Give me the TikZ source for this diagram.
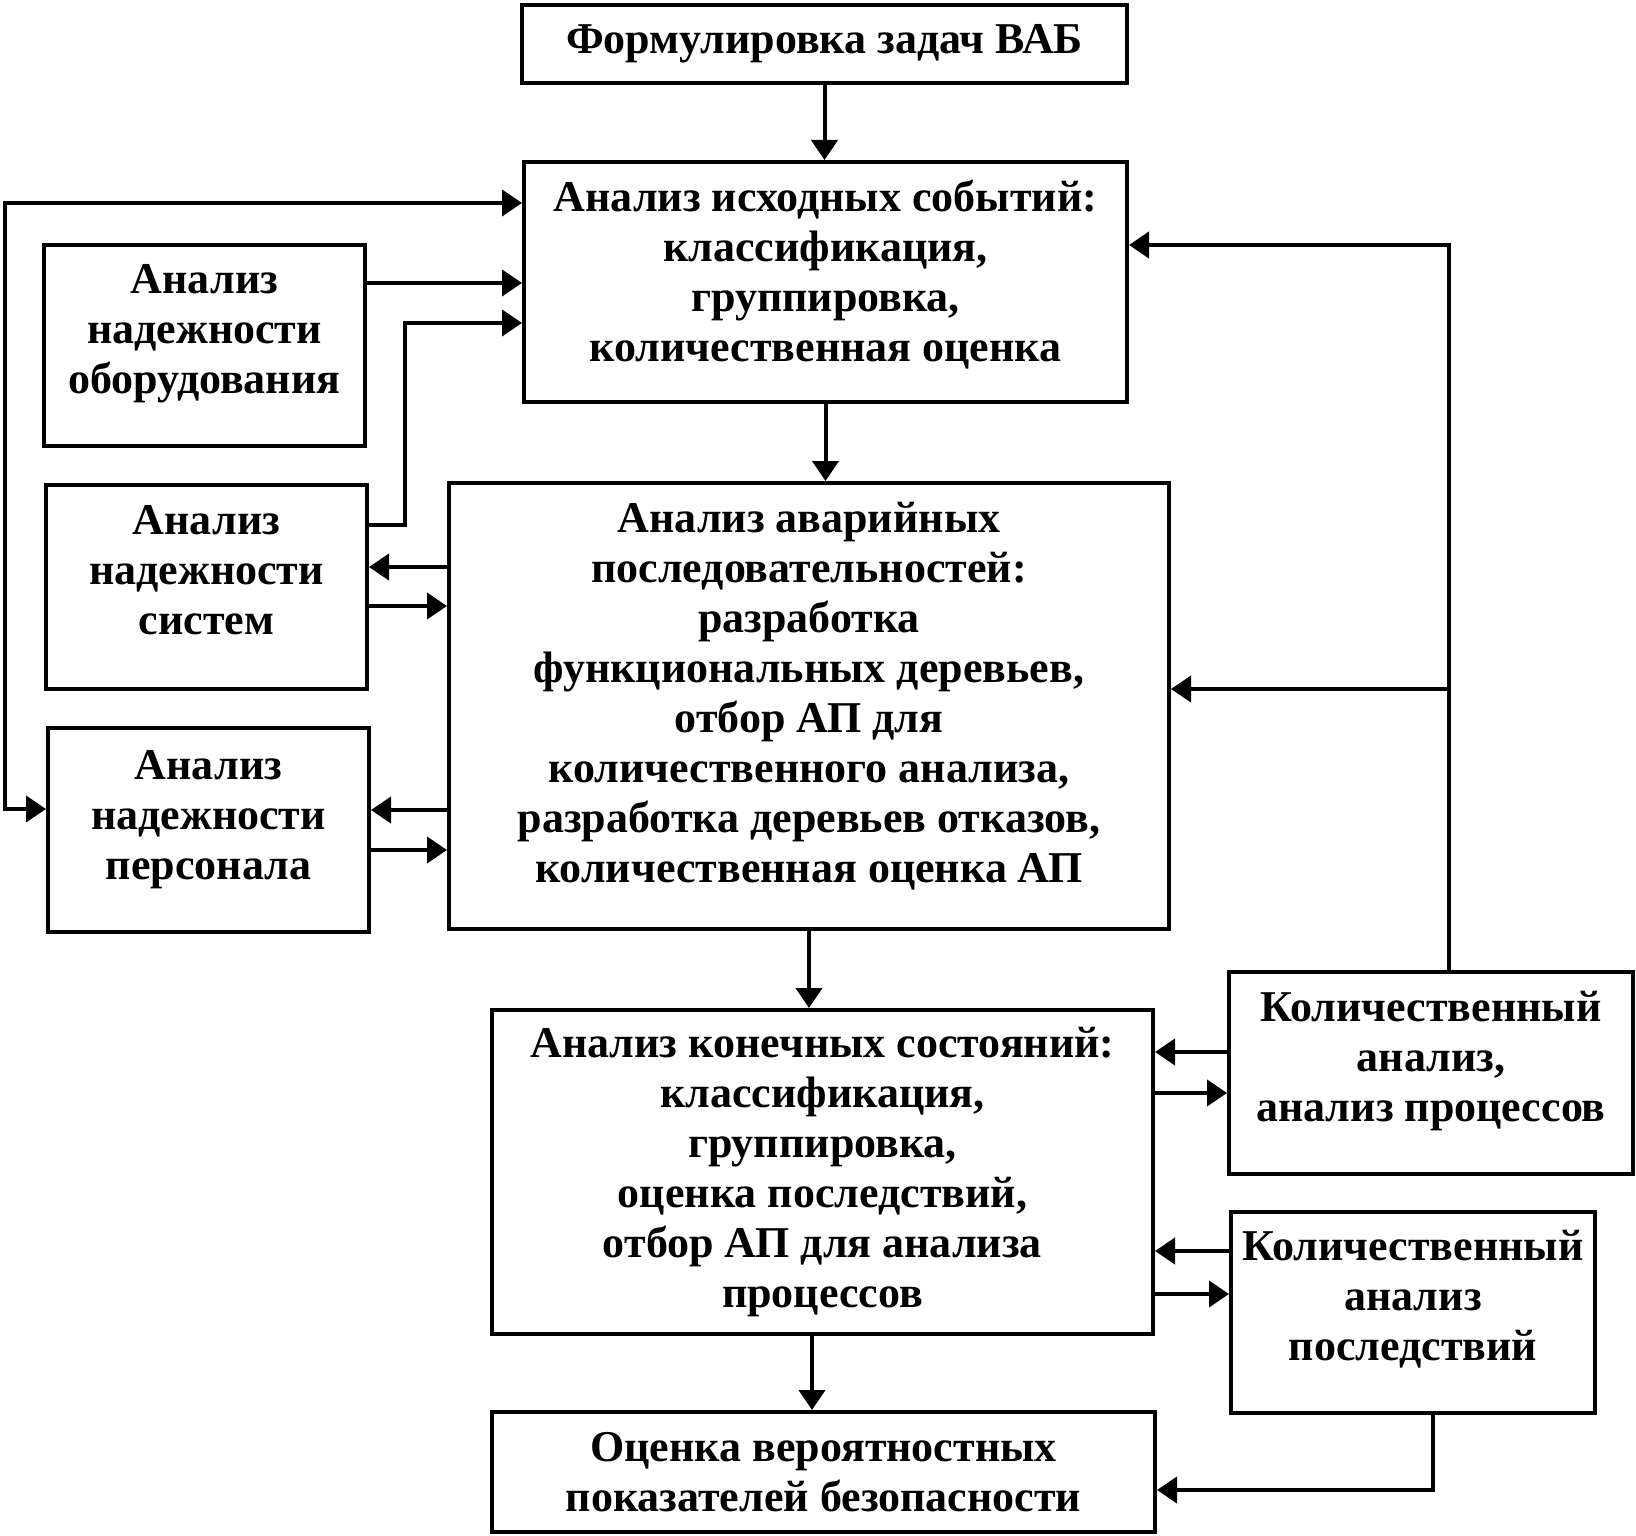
\documentclass[tikz,border=0pt]{standalone}
\usepackage{fontspec}
\setmainfont{Liberation Serif}
\usetikzlibrary{arrows.meta,positioning}
\tikzset{>={Triangle[length=20pt,width=26pt]},
	blok/.style={draw, line width=4pt, align=center, inner sep=0pt,
		font=\fontsize{44}{50}\selectfont\bfseries},
	podnyat/.style={text depth=#1},
	svyaz/.style={line width=4pt, ->}}

\begin{document}
\begin{tikzpicture}[x=1pt,y=-1pt]
	\useasboundingbox (0,0) rectangle (1636,1536);
	% blocks
	\node[blok, minimum width=605pt, minimum height=78pt] (form) at (824.5,44)
		{Формулировка задач ВАБ};
	\node[blok, podnyat=23pt, minimum width=603pt, minimum height=240pt] (iskh) at (825.5,282)
		{Анализ исходных событий:\\классификация,\\группировка,\\количественная оценка};
	\node[blok, podnyat=34pt, minimum width=321pt, minimum height=201pt] (obor) at (204.5,345.5)
		{Анализ\\надежности\\оборудования};
	\node[blok, podnyat=34pt, minimum width=321pt, minimum height=204pt] (sist) at (206.5,587)
		{Анализ\\надежности\\систем};
	\node[blok, podnyat=30pt, minimum width=321pt, minimum height=204pt] (pers) at (208.5,830)
		{Анализ\\надежности\\персонала};
	\node[blok, podnyat=27pt, minimum width=720pt, minimum height=446pt] (avar) at (809,706)
		{Анализ аварийных\\последовательностей:\\разработка\\функциональных деревьев,\\отбор АП для\\количественного анализа,\\разработка деревьев отказов,\\количественная оценка АП};
	\node[blok, podnyat=34pt, minimum width=404pt, minimum height=202pt] (kolpr) at (1431,1073)
		{Количественный\\анализ,\\анализ процессов};
	\node[blok, minimum width=661pt, minimum height=324pt] (konech) at (822.5,1172)
		{Анализ конечных состояний:\\классификация,\\группировка,\\оценка последствий,\\отбор АП для анализа\\процессов};
	\node[blok, podnyat=34pt, minimum width=364pt, minimum height=201pt] (kolsl) at (1413,1312.5)
		{Количественный\\анализ\\последствий};
	\node[blok, minimum width=663pt, minimum height=120pt] (otsen) at (823.5,1472)
		{Оценка вероятностных\\показателей безопасности};

	% main column
	\draw[svyaz] (form) -- (form |- iskh.north);
	\draw[svyaz] (iskh.south) -- (iskh.south |- avar.north);
	\draw[svyaz] (avar.south) -- (avar.south |- konech.north);
	\draw[svyaz] (konech.south -| 812,0) -- (otsen.north -| 812,0);

	% left side
	\coordinate (petlya) at (5,203);
	\draw[svyaz,<->] (iskh.west |- petlya) -- (petlya) -- (petlya |- 0,809) -- (pers.west |- 0,809);
	\draw[svyaz] (obor.east |- 0,283) -- (iskh.west |- 0,283);
	\draw[svyaz] (sist.east |- 0,525) -- (405,525) -- (405,323) -- (iskh.west |- 0,323);
	\draw[svyaz] (avar.west |- 0,567) -- (sist.east |- 0,567);
	\draw[svyaz] (sist.east |- 0,606) -- (avar.west |- 0,606);
	\draw[svyaz] (avar.west |- 0,810) -- (pers.east |- 0,810);
	\draw[svyaz] (pers.east |- 0,850) -- (avar.west |- 0,850);

	% right side
	\coordinate (obr) at (1449,245);
	\draw[svyaz] (kolpr.north -| obr) -- (obr) -- (iskh.east |- obr);
	\draw[svyaz] (obr |- 0,689) -- (avar.east |- 0,689);
	\draw[svyaz] (kolpr.west |- 0,1052) -- (konech.east |- 0,1052);
	\draw[svyaz] (konech.east |- 0,1093) -- (kolpr.west |- 0,1093);
	\draw[svyaz] (kolsl.west |- 0,1251) -- (konech.east |- 0,1251);
	\draw[svyaz] (konech.east |- 0,1294) -- (kolsl.west |- 0,1294);
	\draw[svyaz] (kolsl.south -| 1433,0) -- (1433,1490) -- (otsen.east |- 0,1490);
\end{tikzpicture}
\end{document}
